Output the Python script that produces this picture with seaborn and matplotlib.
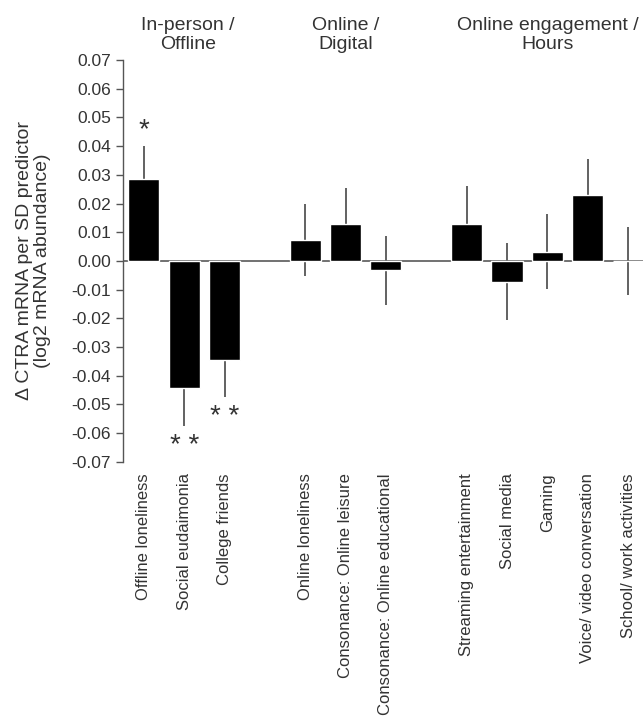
import matplotlib
matplotlib.use("Agg")
import matplotlib.pyplot as plt
import pandas as pd
import numpy as np
import seaborn as sns

# predictors, effect estimates and standard errors
labels = ["Offline loneliness", "Social eudaimonia", "College friends",
          "Online loneliness", "Consonance: Online leisure", "Consonance: Online educational",
          "Streaming entertainment", "Social media", "Gaming",
          "Voice/ video conversation", "School/ work activities"]
values = [0.0285, -0.0443, -0.0345,
          0.0073, 0.013, -0.0032,
          0.013, -0.0072, 0.0032, 0.0231, 0.0]
errors = [0.0115, 0.0132, 0.0129,
          0.0124, 0.0123, 0.012,
          0.0131, 0.0133, 0.0131, 0.0123, 0.012]
stars = ["*", "**", "**", "", "", "", "", "", "", "", ""]

groups = ["In-person /\nOffline", "Online /\nDigital", "Online engagement /\nHours"]
group_members = [labels[0:3], labels[3:6], labels[6:11]]

# empty slots between groups
order = group_members[0] + ["_gap1"] + group_members[1] + ["_gap2"] + group_members[2]

df = pd.DataFrame({"predictor": labels, "effect": values, "se": errors})

sns.set_style("ticks")
plt.rcParams["font.family"] = ["Liberation Sans", "DejaVu Sans"]
plt.rcParams["axes.unicode_minus"] = False
txt = "#333333"

fig = plt.figure(figsize=(6.43, 7.18), dpi=100)
ax = fig.add_axes([0.191, 0.3567, 0.809, 0.5596])

sns.barplot(data=df, x="predictor", y="effect", order=order, color="black",
            saturation=1, width=0.77, errorbar=None, ax=ax, zorder=3)

pos = [order.index(l) for l in labels]
ax.errorbar(pos, values, yerr=errors, fmt="none", ecolor="#555555",
            elinewidth=1.3, capsize=0, zorder=2)
ax.axhline(0, color="#666666", lw=1.3, zorder=1)

for p, v, e, s in zip(pos, values, errors, stars):
    if not s:
        continue
    y = v + e + 0.0055 if v > 0 else v - e - 0.007
    ax.text(p, y, " ".join(s), ha="center", va="center", fontsize=20, color=txt)

ax.set_xlim(-0.52, 12.37)
ax.set_ylim(-0.07, 0.07)
ticks = np.arange(-0.07, 0.0701, 0.01)
ax.set_yticks(ticks)
ax.set_yticklabels([f"{t:.2f}" for t in ticks])
ax.set_xticks(pos)
ax.set_xticklabels(labels, rotation=90, va="top", ha="center")
ax.tick_params(axis="x", length=0, pad=8, labelsize=12, colors=txt)
ax.tick_params(axis="y", length=5, width=1, color="#555555", labelsize=12.5, labelcolor=txt)
ax.set_xlabel("")
ax.set_ylabel("Δ CTRA mRNA per SD predictor\n(log2 mRNA abundance)", fontsize=14,
              color=txt, linespacing=1.05, labelpad=15)

for sp in ["top", "right", "bottom"]:
    ax.spines[sp].set_visible(False)
ax.spines["left"].set_color("#555555")
ax.spines["left"].set_linewidth(1)

# group headers above the bars
centers = [1.1, 5.0, 10.0]
for g, c in zip(groups, centers):
    ax.text(c, 1.0 + 25 / 402, g, transform=ax.get_xaxis_transform(), ha="center",
            va="center", fontsize=14, color=txt, linespacing=1.1)

fig.savefig("out.png", dpi=100)
